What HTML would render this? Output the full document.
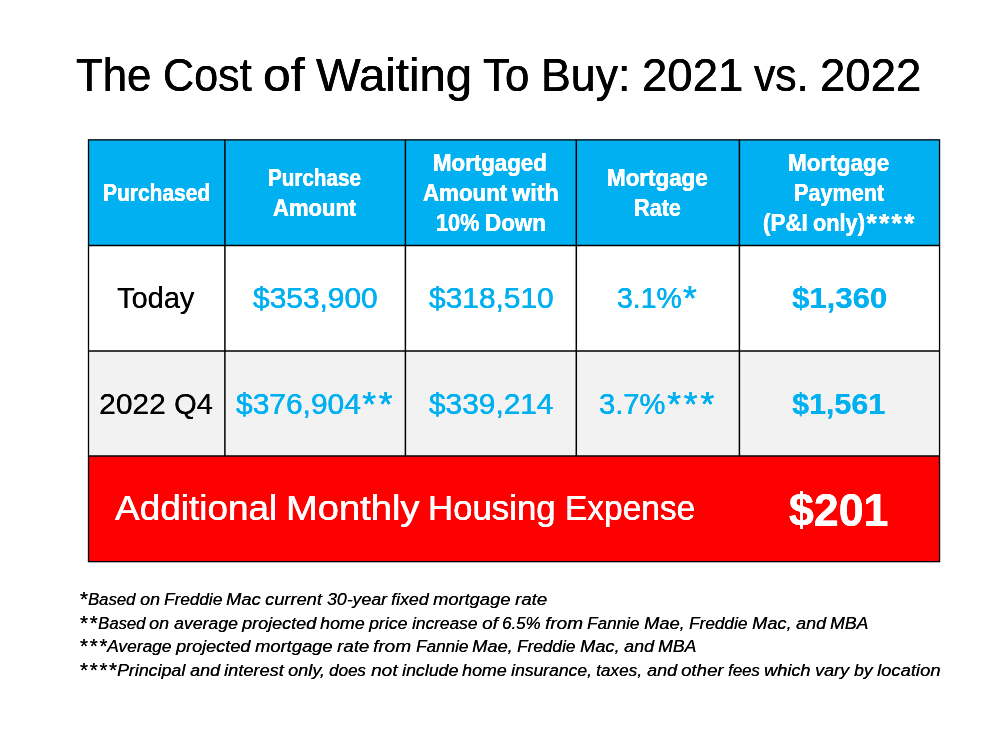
<!DOCTYPE html>
<html lang="en"><head><meta charset="utf-8"><title>The Cost of Waiting To Buy: 2021 vs. 2022</title>
<style>
html,body{margin:0;padding:0;background:#fff;}
body{width:1000px;height:750px;position:relative;overflow:hidden;font-family:"Liberation Sans",sans-serif;}
svg{position:absolute;left:0;top:0;}
.r{position:absolute;white-space:pre;line-height:1;font-weight:normal;font-style:normal;}
.w,.a{display:inline-block;transform-origin:0 0;}
.a{position:relative;line-height:0;}
.b{font-weight:bold;}
.i{font-style:italic;}
.k{color:#000;}
.wh{color:#fff;}
.bl{color:#00B0F0;}
.s1 span{text-shadow:0.25px 0 0 currentColor;}
.s2 span{text-shadow:0.25px 0 0 currentColor,-0.25px 0 0 currentColor;}
</style></head><body>
<svg width="1000" height="750" viewBox="0 0 1000 750">
<rect x="88.4" y="139.8" width="851.1" height="105.6" fill="#00B0F0"/>
<rect x="88.4" y="245.4" width="851.1" height="105.5" fill="#ffffff"/>
<rect x="88.4" y="350.9" width="851.1" height="105.2" fill="#F2F2F2"/>
<rect x="88.4" y="456.1" width="851.1" height="105.5" fill="#FF0000"/>
<g stroke="#000" stroke-width="1.5" fill="none">
<rect x="88.5" y="139.85" width="851.05" height="421.8" stroke-width="1.3"/>
<path d="M88.4 245.4H939.5M88.4 350.9H939.5M88.4 456.1H939.5"/>
<path d="M224.9 139.8V456.1M405.4 139.8V456.1M576.3 139.8V456.1M739.4 139.8V456.1"/>
</g>
</svg>
<div class="r s2 k" style="left:76.42px;top:52px;font-size:46.0px"><span class="w" style="width:75.44px;transform:scaleX(0.9517)">The</span> <span class="w" style="margin-left:-1.50px;width:88.69px;transform:scaleX(0.9374)">Cost</span> <span class="w" style="margin-left:-1.51px;width:41.60px;transform:scaleX(1.0839)">of</span> <span class="w" style="margin-left:-1.50px;width:156.05px;transform:scaleX(1.0288)">Waiting</span> <span class="w" style="margin-left:-1.51px;width:46.26px;transform:scaleX(0.9520)">To</span> <span class="w" style="margin-left:-1.51px;width:89.40px;transform:scaleX(0.9711)">Buy:</span> <span class="w" style="margin-left:-1.51px;width:101.28px;transform:scaleX(0.9896)">2021</span> <span class="w" style="margin-left:-1.51px;width:54.50px;transform:scaleX(0.9270)">vs.</span> <span class="w" style="margin-left:-1.51px;width:101.28px;transform:scaleX(0.9896)">2022</span></div>
<div class="r s2 b wh" style="left:102.56px;top:182px;font-size:23.0px"><span class="w" style="width:107.20px;transform:scaleX(0.9115)">Purchased</span></div>
<div class="r s2 b wh" style="left:267.93px;top:167px;font-size:23.0px"><span class="w" style="width:92.89px;transform:scaleX(0.8969)">Purchase</span></div>
<div class="r s2 b wh" style="left:272.80px;top:197px;font-size:23.0px"><span class="w" style="width:83.18px;transform:scaleX(0.9575)">Amount</span></div>
<div class="r s2 b wh" style="left:433.29px;top:152px;font-size:23.0px"><span class="w" style="width:113.83px;transform:scaleX(0.9683)">Mortgaged</span></div>
<div class="r s2 b wh" style="left:422.58px;top:182px;font-size:23.0px"><span class="w" style="width:84.25px;transform:scaleX(0.9698)">Amount</span> <span class="w" style="margin-left:-0.75px;width:46.89px;transform:scaleX(1.0193)">with</span></div>
<div class="r s2 b wh" style="left:435.90px;top:212px;font-size:23.0px"><span class="w" style="width:43.43px;transform:scaleX(0.9431)">10%</span> <span class="w" style="margin-left:-0.77px;width:60.99px;transform:scaleX(0.9742)">Down</span></div>
<div class="r s2 b wh" style="left:607.10px;top:167px;font-size:23.0px"><span class="w" style="width:100.73px;transform:scaleX(0.9732)">Mortgage</span></div>
<div class="r s2 b wh" style="left:633.67px;top:197px;font-size:23.0px"><span class="w" style="width:46.91px;transform:scaleX(0.9408)">Rate</span></div>
<div class="r s2 b wh" style="left:788.24px;top:152px;font-size:23.0px"><span class="w" style="width:101.18px;transform:scaleX(0.9776)">Mortgage</span></div>
<div class="r s2 b wh" style="left:793.83px;top:182px;font-size:23.0px"><span class="w" style="width:90.07px;transform:scaleX(0.9394)">Payment</span></div>
<div class="r s2 b wh" style="left:762.70px;top:212px;font-size:23.0px"><span class="w" style="width:44.79px;transform:scaleX(0.9738)">(P&amp;I</span> <span class="w" style="margin-left:-0.82px;width:51.97px;transform:scaleX(0.9454)">only)</span><span class="a" style="margin-left:1.41px;width:50.00px;font-size:26.6px;letter-spacing:2.15px;top:1px">****</span></div>
<div class="r s1 k" style="left:116.62px;top:282px;font-size:30.4px"><span class="w" style="width:77.27px;transform:scaleX(0.9526)">Today</span></div>
<div class="r s2 bl" style="left:252.62px;top:282px;font-size:30.4px"><span class="w" style="width:124.76px;transform:scaleX(0.9842)">$353,900</span></div>
<div class="r s2 bl" style="left:428.96px;top:282px;font-size:30.4px"><span class="w" style="width:124.76px;transform:scaleX(0.9842)">$318,510</span></div>
<div class="r s2 bl" style="left:616.50px;top:282px;font-size:30.4px"><span class="w" style="width:64.73px;transform:scaleX(0.9343)">3.1%</span><span class="a" style="margin-left:1.72px;width:16.63px;font-size:35.4px;letter-spacing:2.86px;top:2px">*</span></div>
<div class="r s1 b bl" style="left:791.72px;top:282px;font-size:30.4px"><span class="w" style="width:95.16px;transform:scaleX(1.0238)">$1,360</span></div>
<div class="r s1 k" style="left:99.43px;top:388px;font-size:30.4px"><span class="w" style="width:66.70px;transform:scaleX(0.9865)">2022</span> <span class="w" style="margin-left:-1.03px;width:38.82px;transform:scaleX(0.9573)">Q4</span></div>
<div class="r s2 bl" style="left:235.64px;top:388px;font-size:30.4px"><span class="w" style="width:124.86px;transform:scaleX(0.9849)">$376,904</span><span class="a" style="margin-left:1.72px;width:33.27px;font-size:35.4px;letter-spacing:2.86px;top:2px">**</span></div>
<div class="r s2 bl" style="left:428.83px;top:388px;font-size:30.4px"><span class="w" style="width:124.47px;transform:scaleX(0.9819)">$339,214</span></div>
<div class="r s2 bl" style="left:599.13px;top:388px;font-size:30.4px"><span class="w" style="width:66.32px;transform:scaleX(0.9573)">3.7%</span><span class="a" style="margin-left:1.72px;width:49.90px;font-size:35.4px;letter-spacing:2.86px;top:2px">***</span></div>
<div class="r s1 b bl" style="left:791.55px;top:388px;font-size:30.4px"><span class="w" style="width:93.06px;transform:scaleX(1.0011)">$1,561</span></div>
<div class="r s2 wh" style="left:114.90px;top:491px;font-size:35.6px"><span class="w" style="width:162.26px;transform:scaleX(1.0384)">Additional</span> <span class="w" style="margin-left:-1.14px;width:133.45px;transform:scaleX(1.0711)">Monthly</span> <span class="w" style="margin-left:-1.14px;width:127.67px;transform:scaleX(0.9779)">Housing</span> <span class="w" style="margin-left:-1.13px;width:130.24px;transform:scaleX(0.9406)">Expense</span></div>
<div class="r s2 b wh" style="left:788.84px;top:487px;font-size:46.5px"><span class="w" style="width:99.48px;transform:scaleX(0.9616)">$201</span></div>
<div class="r s1 i k" style="left:78.96px;top:591px;font-size:17.4px"><span class="a" style="margin-left:0.00px;width:9.71px;font-size:20.7px;letter-spacing:1.65px;top:1px">*</span><span class="w" style="margin-left:-0.80px;width:47.29px;transform:scaleX(0.9590)">Based</span> <span class="w" style="margin-left:-0.47px;width:19.91px;transform:scaleX(1.0287)">on</span> <span class="w" style="margin-left:-0.47px;width:58.20px;transform:scaleX(0.9868)">Freddie</span> <span class="w" style="margin-left:-0.47px;width:34.62px;transform:scaleX(1.0529)">Mac</span> <span class="w" style="margin-left:-0.47px;width:56.85px;transform:scaleX(1.0501)">current</span> <span class="w" style="margin-left:-0.47px;width:59.93px;transform:scaleX(1.0161)">30-year</span> <span class="w" style="margin-left:-0.47px;width:37.58px;transform:scaleX(1.0227)">fixed</span> <span class="w" style="margin-left:-0.47px;width:77.32px;transform:scaleX(1.0522)">mortgage</span> <span class="w" style="margin-left:-0.47px;width:32.17px;transform:scaleX(1.0727)">rate</span></div>
<div class="r s1 i k" style="left:78.99px;top:615px;font-size:17.4px"><span class="a" style="margin-left:0.00px;width:19.41px;font-size:20.7px;letter-spacing:1.65px;top:1px">**</span><span class="w" style="margin-left:-0.81px;width:47.36px;transform:scaleX(0.9601)">Based</span> <span class="w" style="margin-left:-0.46px;width:19.97px;transform:scaleX(1.0313)">on</span> <span class="w" style="margin-left:-0.46px;width:63.82px;transform:scaleX(1.0152)">average</span> <span class="w" style="margin-left:-0.46px;width:74.17px;transform:scaleX(1.0364)">projected</span> <span class="w" style="margin-left:-0.46px;width:44.59px;transform:scaleX(1.0247)">home</span> <span class="w" style="margin-left:-0.46px;width:38.33px;transform:scaleX(1.0166)">price</span> <span class="w" style="margin-left:-0.46px;width:65.26px;transform:scaleX(0.9926)">increase</span> <span class="w" style="margin-left:-0.46px;width:15.91px;transform:scaleX(1.0947)">of</span> <span class="w" style="margin-left:-0.46px;width:38.48px;transform:scaleX(0.9705)">6.5%</span> <span class="w" style="margin-left:-0.46px;width:37.92px;transform:scaleX(1.0897)">from</span> <span class="w" style="margin-left:-0.46px;width:52.35px;transform:scaleX(0.9842)">Fannie</span> <span class="w" style="margin-left:-0.46px;width:40.70px;transform:scaleX(1.0525)">Mae,</span> <span class="w" style="margin-left:-0.46px;width:58.31px;transform:scaleX(0.9886)">Freddie</span> <span class="w" style="margin-left:-0.46px;width:39.51px;transform:scaleX(1.0479)">Mac,</span> <span class="w" style="margin-left:-0.46px;width:29.97px;transform:scaleX(1.0324)">and</span> <span class="w" style="margin-left:-0.46px;width:38.20px;transform:scaleX(1.0132)">MBA</span></div>
<div class="r s1 i k" style="left:79.02px;top:638px;font-size:17.4px"><span class="a" style="margin-left:0.00px;width:29.12px;font-size:20.7px;letter-spacing:1.65px;top:1px">***</span><span class="w" style="margin-left:-0.84px;width:64.43px;transform:scaleX(0.9994)">Average</span> <span class="w" style="margin-left:-0.46px;width:74.20px;transform:scaleX(1.0371)">projected</span> <span class="w" style="margin-left:-0.47px;width:77.49px;transform:scaleX(1.0545)">mortgage</span> <span class="w" style="margin-left:-0.46px;width:32.24px;transform:scaleX(1.0757)">rate</span> <span class="w" style="margin-left:-0.46px;width:37.94px;transform:scaleX(1.0902)">from</span> <span class="w" style="margin-left:-0.46px;width:52.37px;transform:scaleX(0.9846)">Fannie</span> <span class="w" style="margin-left:-0.46px;width:40.72px;transform:scaleX(1.0526)">Mae,</span> <span class="w" style="margin-left:-0.46px;width:58.34px;transform:scaleX(0.9890)">Freddie</span> <span class="w" style="margin-left:-0.46px;width:39.54px;transform:scaleX(1.0487)">Mac,</span> <span class="w" style="margin-left:-0.46px;width:29.97px;transform:scaleX(1.0324)">and</span> <span class="w" style="margin-left:-0.46px;width:38.22px;transform:scaleX(1.0137)">MBA</span></div>
<div class="r s1 i k" style="left:79.02px;top:662px;font-size:17.4px"><span class="a" style="margin-left:0.00px;width:38.82px;font-size:20.7px;letter-spacing:1.65px;top:1px">****</span><span class="w" style="margin-left:-0.83px;width:68.20px;transform:scaleX(1.0224)">Principal</span> <span class="w" style="margin-left:-0.45px;width:30.00px;transform:scaleX(1.0334)">and</span> <span class="w" style="margin-left:-0.45px;width:59.69px;transform:scaleX(1.0463)">interest</span> <span class="w" style="margin-left:-0.45px;width:36.87px;transform:scaleX(1.0400)">only,</span> <span class="w" style="margin-left:-0.45px;width:36.84px;transform:scaleX(0.9763)">does</span> <span class="w" style="margin-left:-0.45px;width:26.50px;transform:scaleX(1.0957)">not</span> <span class="w" style="margin-left:-0.45px;width:56.32px;transform:scaleX(1.0216)">include</span> <span class="w" style="margin-left:-0.45px;width:44.66px;transform:scaleX(1.0262)">home</span> <span class="w" style="margin-left:-0.45px;width:80.80px;transform:scaleX(1.0069)">insurance,</span> <span class="w" style="margin-left:-0.45px;width:45.98px;transform:scaleX(0.9908)">taxes,</span> <span class="w" style="margin-left:-0.45px;width:30.02px;transform:scaleX(1.0340)">and</span> <span class="w" style="margin-left:-0.45px;width:42.45px;transform:scaleX(1.0708)">other</span> <span class="w" style="margin-left:-0.45px;width:31.78px;transform:scaleX(0.9667)">fees</span> <span class="w" style="margin-left:-0.45px;width:46.47px;transform:scaleX(1.0449)">which</span> <span class="w" style="margin-left:-0.45px;width:34.15px;transform:scaleX(1.0386)">vary</span> <span class="w" style="margin-left:-0.45px;width:18.61px;transform:scaleX(1.0119)">by</span> <span class="w" style="margin-left:-0.45px;width:63.37px;transform:scaleX(1.0571)">location</span></div>
</body>
</html>
